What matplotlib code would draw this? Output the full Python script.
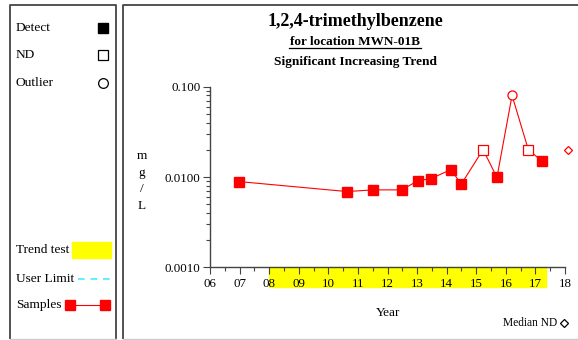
import numpy as np
import matplotlib
matplotlib.use('Agg')
import matplotlib.pyplot as plt
from matplotlib.patches import Rectangle
from matplotlib.lines import Line2D
import matplotlib.ticker as mticker
import matplotlib.transforms as mtransforms

plt.rcParams['font.family'] = ['Liberation Serif', 'DejaVu Serif']

# sample data (decimal year, mg/L)
years = [2006.98, 2010.63, 2011.52, 2012.48, 2013.03, 2013.47, 2014.15,
         2014.49, 2015.23, 2015.70, 2016.21, 2016.76, 2017.22]
conc = [0.0089, 0.0069, 0.0072, 0.0072, 0.0091, 0.0096, 0.0121,
        0.0083, 0.0201, 0.0099, 0.080, 0.0201, 0.0150]
kind = ['D', 'D', 'D', 'D', 'D', 'D', 'D', 'D', 'ND', 'D', 'OUT', 'ND', 'D']

median_nd_x = 2018.1
median_nd_y = 0.0201
trend_start, trend_end = 2008.0, 2017.35
year_ticks = list(range(2006, 2019))

W, H = 578, 340
fig = plt.figure(figsize=(W / 100, H / 100), dpi=100)


def fx(px):
    return px / W


def fy(py):
    return 1 - py / H


def fline(xs, ys, **kw):
    fig.lines.append(Line2D([fx(v) for v in xs], [fy(v) for v in ys],
                            transform=fig.transFigure, **kw))


# panel frames: dark sides/top, faint bottom
frame = dict(color='#444444', lw=1.3, solid_capstyle='butt')
fline([10, 10, 116, 116], [339, 5, 5, 339], **frame)
fline([123, 123, 578], [339, 5, 5], **frame)
fline([10, 116], [339, 339], color='#cccccc', lw=1)
fline([123, 578], [339, 339], color='#cccccc', lw=1)

# legend panel
lfs = 9.6
fig.text(fx(16), fy(28), 'Detect', fontsize=lfs, va='center')
fig.text(fx(16), fy(55), 'ND', fontsize=lfs, va='center')
fig.text(fx(16), fy(83), 'Outlier', fontsize=lfs, va='center')
fline([103], [28], marker='s', ms=7, color='black')
fline([103], [55], marker='s', ms=7, mfc='white', mec='black', mew=0.9)
fline([103], [83], marker='o', ms=7, mfc='white', mec='black', mew=0.9)

fig.text(fx(16), fy(250), 'Trend test', fontsize=lfs, va='center')
fig.patches.append(Rectangle((fx(72), fy(258)), fx(39), 16 / H,
                             transform=fig.transFigure, color='yellow'))
fig.text(fx(16), fy(279), 'User Limit', fontsize=lfs, va='center')
fline([78, 111], [279, 279], color='#44eeff', ls=(0, (4, 3.5)), lw=1.2)
fig.text(fx(16), fy(305), 'Samples', fontsize=lfs, va='center')
fline([70, 105], [305, 305], color='red', lw=0.8, marker='s', ms=7.5)

# titles
fig.text(fx(355), fy(22), '1,2,4-trimethylbenzene', fontsize=13,
         fontweight='bold', ha='center', va='center')
fig.text(fx(355), fy(42), 'for location MWN-01B', fontsize=9.5,
         fontweight='bold', ha='center', va='center')
fline([289, 421], [48, 48], color='black', lw=0.9)
fig.text(fx(355), fy(62), 'Significant Increasing Trend', fontsize=9.6,
         fontweight='bold', ha='center', va='center')

# main axes
ax = fig.add_axes([fx(210), fy(267.3), fx(355), (267.3 - 86.7) / H])
ax.set_yscale('log')
ax.set_ylim(0.001, 0.1)
ax.set_xlim(2006, 2018)
for s in ['top', 'right']:
    ax.spines[s].set_visible(False)
for s in ['left', 'bottom']:
    ax.spines[s].set_color('#444444')
    ax.spines[s].set_linewidth(1)

ax.set_xticks(year_ticks)
ax.xaxis.set_major_formatter(mticker.FuncFormatter(lambda v, p: '%02d' % (int(round(v)) % 100)))
ax.xaxis.set_minor_locator(mticker.MultipleLocator(0.5))
ax.set_yticks([0.001, 0.01, 0.1])
ax.set_yticklabels(['0.0010', '0.0100', '0.100'])
ax.yaxis.set_minor_locator(mticker.LogLocator(base=10, subs=np.arange(2, 10)))
ax.yaxis.set_minor_formatter(mticker.NullFormatter())
ax.tick_params(axis='both', which='major', length=5, width=0.8, color='#444444',
               labelsize=9.3, pad=2)
ax.tick_params(axis='x', which='major', pad=3)
ax.tick_params(axis='both', which='minor', length=3, width=0.8, color='#444444')

# trend test band under the x axis
trans = mtransforms.blended_transform_factory(ax.transData, ax.transAxes)
ax.add_patch(Rectangle((trend_start, 0), trend_end - trend_start, -19.5 / 180.6,
                       transform=trans, color='yellow', clip_on=False, zorder=-1))

ax.plot(years, conc, color='red', lw=0.8, zorder=2)
for x, y, k in zip(years, conc, kind):
    if k == 'D':
        ax.plot(x, y, marker='s', ms=6.5, color='red', zorder=3)
    elif k == 'ND':
        ax.plot(x, y, marker='s', ms=6.5, mfc='white', mec='red', mew=0.9, zorder=3)
    else:
        ax.plot(x, y, marker='o', ms=6.5, mfc='white', mec='red', mew=0.9, zorder=3)
ax.plot(median_nd_x, median_nd_y, marker='D', ms=4.5, mfc='white', mec='red',
        mew=0.9, clip_on=False)

fig.text(fx(142), fy(181), 'm\ng\n/\nL', fontsize=9.5, ha='center', va='center',
         linespacing=1.5)
fig.text(fx(388), fy(313), 'Year', fontsize=9.5, ha='center', va='center')
fig.text(fx(557), fy(323), 'Median ND', fontsize=8.3, ha='right', va='center')
fline([564], [323], marker='D', ms=4, mfc='white', mec='black', mew=0.9)

fig.savefig('out.png', dpi=100)
